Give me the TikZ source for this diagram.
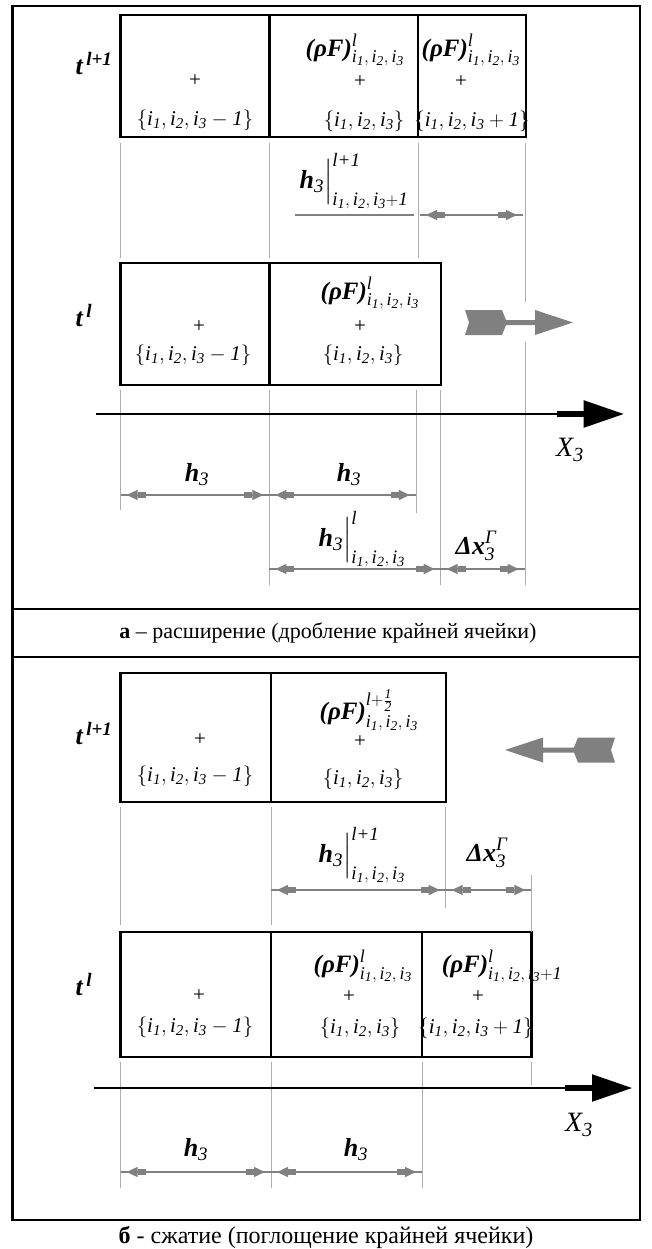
\documentclass[tikz,border=0pt]{standalone}
\usepackage{amsmath}
\usepackage{fontspec}
\setmainfont{Liberation Serif}
\usetikzlibrary{arrows.meta}

\definecolor{dimgray}{HTML}{808080}
\definecolor{guidegray}{HTML}{ADADAD}

% math sizes for the label fonts
\DeclareMathSizes{21}{21}{15}{11}
\DeclareMathSizes{25}{25}{18}{13.5}
\DeclareMathSizes{26}{26}{19}{14}
\DeclareMathSizes{28}{28}{20}{15}

\newcommand{\bi}[1]{\textbf{\textit{#1}}}
\newcommand{\ii}[1]{\textit{#1}}
\newcommand{\ind}[1]{\ii{i}_{\ii{#1}}}
\newcommand{\idx}{\ind1,\,\ind2,\,\ind3}
\newcommand{\idxt}{\ind1,\ind2,\ind3}

\begin{document}
\begin{tikzpicture}[x=1pt, y=-1pt,
        every node/.style={inner sep=0pt, outer sep=0pt},
        idxlbl/.style={font=\fontsize{21}{25}\selectfont},
        rholbl/.style={font=\fontsize{25}{29}\selectfont},
        symlbl/.style={font=\fontsize{26}{30}\selectfont},
        frame/.style={draw=black, line width=2.4pt},
        cellbox/.style={draw=black, line width=2.4pt, anchor=north west},
        guide/.style={draw=guidegray, line width=1pt},
        dim/.style={draw=dimgray, line width=1.5pt,
            postaction={draw=dimgray, line width=1.5pt, shorten <=6pt, shorten >=6pt,
                {Triangle[length=11pt,width=10pt] Rectangle[length=8pt,width=6pt]}-{Rectangle[length=8pt,width=6pt] Triangle[length=11pt,width=10pt]}}},
        axis/.style={draw=black, line width=2.2pt, -{Rectangle[length=27pt,width=6pt] Triangle[length=40pt,width=27pt]}},
        blockarrow/.style={fill=dimgray},
        caption/.style={font=\fontsize{22}{26}\selectfont}
        ]
        \useasboundingbox (0,0) rectangle (652,1249);

        % outer frame with caption row
        \draw[frame] (12.5,6) rectangle (640,1220);
        \draw[frame] (12.5,609) -- (640,609);
        \draw[frame] (12.5,657) -- (640,657);
        \node[caption] (capa) at (328,633) {\textbf{а} – расширение (дробление крайней ячейки)};
        \node[caption, font=\fontsize{24}{28}\selectfont] (capb) at (326,1237) {\textbf{б} - сжатие (поглощение крайней ячейки)};

        % ---------- a: expansion ----------
        % cells at t^{l+1}
        \node[cellbox, minimum width=148.8pt, minimum height=122pt] (a1c1) at (120.6,15) {};
        \node[cellbox, minimum width=148.6pt, minimum height=122pt] (a1c2) at (269.4,15) {};
        \node[cellbox, minimum width=108pt, minimum height=122pt] (a1c3) at (418,15) {};
        \node[symlbl] (a1t) at (94,64) {$\bi{t}^{\,\bi{l+1}}$};
        \node[idxlbl] (a1p1) at (195,81) {+};
        \node[idxlbl] (a1n1) at (195,120) {$\{\idxt-\ii1\}$};
        \node[rholbl] (a1f2) at (355,50) {$\bi{(ρF)}^{\ii{l}}_{\idx}$};
        \node[idxlbl] (a1p2) at (360,82) {+};
        \node[idxlbl] (a1n2) at (364,121) {$\{\idxt\}$};
        \node[rholbl] (a1f3) at (471,50) {$\bi{(ρF)}^{\ii{l}}_{\idx}$};
        \node[idxlbl] (a1p3) at (461,82) {+};
        \node[idxlbl] (a1n3) at (472,121) {$\{\idxt+\ii1\}$};

        % cells at t^l
        \node[cellbox, minimum width=148.8pt, minimum height=122pt] (a2c1) at (120.6,263) {};
        \node[cellbox, minimum width=171.3pt, minimum height=122pt] (a2c2) at (269.4,263) {};
        \node[symlbl] (a2t) at (84,316) {$\bi{t}^{\,\bi{l}}$};
        \node[idxlbl] (a2p1) at (199,327) {+};
        \node[idxlbl] (a2n1) at (193,355) {$\{\idxt-\ii1\}$};
        \node[rholbl] (a2f2) at (370,293) {$\bi{(ρF)}^{\ii{l}}_{\idx}$};
        \node[idxlbl] (a2p2) at (360,327) {+};
        \node[idxlbl] (a2n2) at (363,355) {$\{\idxt\}$};

        % guide lines
        \foreach \x/\ya/\yb in {120.6/143/258, 269.4/143/258, 418/143/258, 525/143/302, 525/342/585,
                120.6/390/510, 269.4/390/585, 416/390/513, 440.7/390/585}
            \draw[guide] (\x,\ya) -- (\x,\yb);

        % moving boundary
        \fill[blockarrow] (465,310) -- (502,310) -- (506,320) -- (535,320) -- (535,310) -- (573,322.5)
            -- (535,335) -- (535,325) -- (506,325) -- (502,335) -- (465,335) -- (469,322.5) -- cycle;

        % axis
        \coordinate (axa0) at (95.6,414);
        \coordinate (axa1) at (623.7,414);
        \draw[axis] (axa0) -- (axa1);
        \node[symlbl, font=\fontsize{28}{32}\selectfont] (xa) at (570,450) {$\ii{X}_{\ii3}$};

        % dimensions
        \coordinate (ula) at (295,215);
        \coordinate (ulb) at (414,215);
        \coordinate (da1) at (420,215);
        \coordinate (da2) at (523,215);
        \draw[draw=dimgray, line width=1.5pt] (ula) -- (ulb);
        \draw[dim] (da1) -- (da2);
        \node[symlbl] (hla) at (354,181) {$\bi{h}_{\ii3}\Big|^{\ii{l+1}}_{\idx+\ii1}$};

        \coordinate (db1) at (120.6,495);
        \coordinate (db2) at (269.4,495);
        \coordinate (db3) at (415.8,495);
        \draw[dim] (db1) -- (db2);
        \draw[dim] (db2) -- (db3);
        \node[symlbl] (hb1) at (197,475) {$\bi{h}_{\ii3}$};
        \node[symlbl] (hb2) at (349,475) {$\bi{h}_{\ii3}$};

        \coordinate (dc1) at (269.4,569);
        \coordinate (dc2) at (440.7,569);
        \coordinate (dc3) at (524.7,569);
        \draw[dim] (dc1) -- (dc2);
        \draw[dim] (dc2) -- (dc3);
        \node[symlbl] (hc) at (362,539) {$\bi{h}_{\ii3}\Big|^{\ii{l}}_{\idx}$};
        \node[symlbl] (xc) at (476,546) {$\bi{Δx}^{\ii{Γ}}_{\ii3}$};

        % ---------- b: compression ----------
        % cells at t^{l+1}
        \node[cellbox, minimum width=150.4pt, minimum height=129pt] (b1c1) at (120.6,673) {};
        \node[cellbox, minimum width=174.7pt, minimum height=129pt] (b1c2) at (271,673) {};
        \node[symlbl] (b1t) at (94,734) {$\bi{t}^{\,\bi{l+1}}$};
        \node[idxlbl] (b1p1) at (200,740) {+};
        \node[idxlbl] (b1n1) at (195,776) {$\{\idxt-\ii1\}$};
        \node[rholbl] (b1f2) at (369,710) {$\bi{(ρF)}^{\ii{l}+\frac{\ii1}{\ii2}}_{\idx}$};
        \node[idxlbl] (b1p2) at (360,742) {+};
        \node[idxlbl] (b1n2) at (363,779) {$\{\idxt\}$};

        % moving boundary
        \fill[blockarrow] (505,750) -- (543,737.5) -- (543,747.5) -- (574,747.5) -- (578,737.5) -- (615,737.5)
            -- (611,750) -- (615,762.5) -- (578,762.5) -- (574,752.5) -- (543,752.5) -- (543,762.5) -- cycle;

        % cells at t^l
        \node[cellbox, minimum width=150.4pt, minimum height=125pt] (b2c1) at (120.6,932) {};
        \node[cellbox, minimum width=151pt, minimum height=125pt] (b2c2) at (271,932) {};
        \node[cellbox, minimum width=109.4pt, minimum height=125pt] (b2c3) at (422,932) {};
        \node[symlbl] (b2t) at (84,985) {$\bi{t}^{\,\bi{l}}$};
        \node[idxlbl] (b2p1) at (199,996) {+};
        \node[idxlbl] (b2n1) at (195,1027) {$\{\idxt-\ii1\}$};
        \node[rholbl] (b2f2) at (363,966) {$\bi{(ρF)}^{\ii{l}}_{\idx}$};
        \node[idxlbl] (b2p2) at (349,997) {+};
        \node[idxlbl] (b2n2) at (360,1028) {$\{\idxt\}$};
        \node[rholbl] (b2f3) at (502,966) {$\bi{(ρF)}^{\ii{l}}_{\idx+\ii1}$};
        \node[idxlbl] (b2p3) at (478,997) {+};
        \node[idxlbl] (b2n3) at (476,1028) {$\{\idxt+\ii1\}$};

        % guide lines
        \foreach \x/\ya/\yb in {120.6/807/925, 271/807/925, 445.7/807/908, 531.4/875/932,
                120.6/1062/1188, 271/1062/1188, 422/1062/1188, 531.4/1062/1085}
            \draw[guide] (\x,\ya) -- (\x,\yb);

        % axis
        \coordinate (axb0) at (93.5,1088);
        \coordinate (axb1) at (632,1088);
        \draw[axis] (axb0) -- (axb1);
        \node[symlbl, font=\fontsize{28}{32}\selectfont] (xb) at (579,1125) {$\ii{X}_{\ii3}$};

        % dimensions
        \coordinate (dd1) at (271,890);
        \coordinate (dd2) at (445.7,890);
        \coordinate (dd3) at (531.4,890);
        \draw[dim] (dd1) -- (dd2);
        \draw[dim] (dd2) -- (dd3);
        \node[symlbl] (hd) at (362,855) {$\bi{h}_{\ii3}\Big|^{\ii{l+1}}_{\idx}$};
        \node[symlbl] (xd) at (487,853) {$\bi{Δx}^{\ii{Γ}}_{\ii3}$};

        \coordinate (de1) at (120.6,1172);
        \coordinate (de2) at (271,1172);
        \coordinate (de3) at (422,1172);
        \draw[dim] (de1) -- (de2);
        \draw[dim] (de2) -- (de3);
        \node[symlbl] (he1) at (196,1150) {$\bi{h}_{\ii3}$};
        \node[symlbl] (he2) at (356,1150) {$\bi{h}_{\ii3}$};

    \end{tikzpicture}
\end{document}
